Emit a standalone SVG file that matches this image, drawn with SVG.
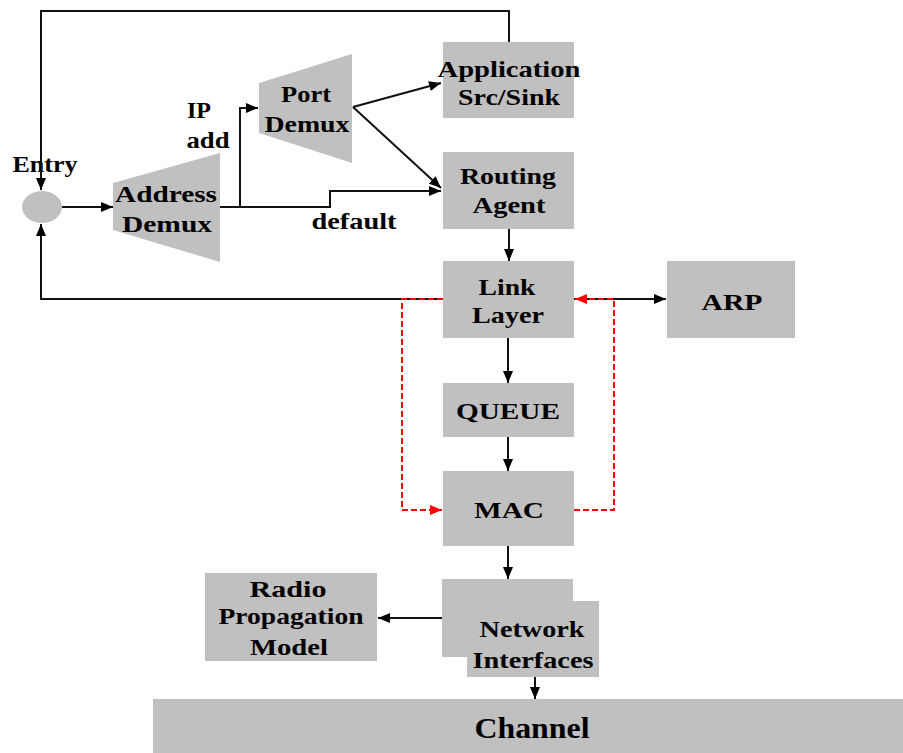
<svg xmlns="http://www.w3.org/2000/svg" width="903" height="753" viewBox="0 0 903 753">
<defs>
<style>
.box{fill:#c0c0c0;stroke:none}
.t{font-family:"Liberation Serif","Times New Roman",serif;font-weight:bold;font-size:24px;fill:#000;text-anchor:middle}
.ln{fill:none;stroke:#111;stroke-width:2}
.rd{fill:none;stroke:#ff0000;stroke-width:2;stroke-dasharray:6,3}
</style>
<marker id="ah" markerUnits="userSpaceOnUse" markerWidth="12" markerHeight="10" refX="12" refY="5" orient="auto">
<path d="M0,0 L12,5 L0,10 z" fill="#000"/>
</marker>
<marker id="ahr" markerUnits="userSpaceOnUse" markerWidth="12" markerHeight="10" refX="12" refY="5" orient="auto">
<path d="M0,0 L12,5 L0,10 z" fill="#ff0000"/>
</marker>
</defs>
<rect width="903" height="753" fill="#fff"/>

<g id="entry">
<ellipse cx="42" cy="207" rx="20" ry="16" class="box"/>
<text class="t" x="45" y="172" textLength="65" lengthAdjust="spacingAndGlyphs">Entry</text>
</g>
<g id="address-demux">
<polygon points="113,183 220,153 220,262 113,230" class="box"/>
<text class="t" x="166" y="202" textLength="102" lengthAdjust="spacingAndGlyphs">Address</text>
<text class="t" x="167" y="232" textLength="90" lengthAdjust="spacingAndGlyphs">Demux</text>
</g>
<g id="port-demux">
<polygon points="259,83 352,54 352,163 259,133" class="box"/>
<text class="t" x="306" y="102" textLength="50" lengthAdjust="spacingAndGlyphs">Port</text>
<text class="t" x="307" y="132" textLength="85" lengthAdjust="spacingAndGlyphs">Demux</text>
</g>
<g id="application">
<rect x="443" y="42" width="131" height="76" class="box"/>
<text class="t" x="509" y="77" textLength="143" lengthAdjust="spacingAndGlyphs">Application</text>
<text class="t" x="509" y="105" textLength="102" lengthAdjust="spacingAndGlyphs">Src/Sink</text>
</g>
<g id="routing-agent">
<rect x="443" y="152" width="131" height="77" class="box"/>
<text class="t" x="508" y="184" textLength="96" lengthAdjust="spacingAndGlyphs">Routing</text>
<text class="t" x="509" y="213" textLength="73" lengthAdjust="spacingAndGlyphs">Agent</text>
</g>
<g id="link-layer">
<rect x="443" y="261" width="131" height="77" class="box"/>
<text class="t" x="507" y="295" textLength="57" lengthAdjust="spacingAndGlyphs">Link</text>
<text class="t" x="508" y="323" textLength="72" lengthAdjust="spacingAndGlyphs">Layer</text>
</g>
<g id="arp">
<rect x="667" y="261" width="128" height="77" class="box"/>
<text class="t" x="732" y="310" textLength="61" lengthAdjust="spacingAndGlyphs">ARP</text>
</g>
<g id="queue">
<rect x="443" y="383" width="131" height="54" class="box"/>
<text class="t" x="508" y="419" textLength="104" lengthAdjust="spacingAndGlyphs">QUEUE</text>
</g>
<g id="mac">
<rect x="443" y="471" width="131" height="75" class="box"/>
<text class="t" x="509" y="518" textLength="70" lengthAdjust="spacingAndGlyphs">MAC</text>
</g>
<g id="network-interfaces">
<rect x="442" y="579" width="131" height="78" class="box"/>
<rect x="467" y="601" width="132" height="76" class="box"/>
<text class="t" x="532" y="637" textLength="105" lengthAdjust="spacingAndGlyphs">Network</text>
<text class="t" x="533" y="668" textLength="121" lengthAdjust="spacingAndGlyphs">Interfaces</text>
</g>
<g id="radio-propagation-model">
<rect x="205" y="573" width="172" height="88" class="box"/>
<text class="t" x="288" y="597" textLength="77" lengthAdjust="spacingAndGlyphs">Radio</text>
<text class="t" x="291" y="624" textLength="145" lengthAdjust="spacingAndGlyphs">Propagation</text>
<text class="t" x="289" y="655" textLength="78" lengthAdjust="spacingAndGlyphs">Model</text>
</g>
<g id="channel">
<rect x="153" y="699" width="750" height="54" class="box"/>
<text class="t" x="532" y="738" style="font-size:30px" textLength="115" lengthAdjust="spacingAndGlyphs">Channel</text>
</g>

<g id="connectors">
<path class="ln" d="M509,42 V11 H41 V190" marker-end="url(#ah)"/>
<path class="ln" d="M443,299 H41 V224" marker-end="url(#ah)"/>
<path class="ln" d="M62,207 H113" marker-end="url(#ah)"/>
<path class="ln" d="M220,207 H330 V191 H441" marker-end="url(#ah)"/>
<path class="ln" d="M240,207 V108 H258" marker-end="url(#ah)"/>
<path class="ln" d="M353,107 L441,83" marker-end="url(#ah)"/>
<path class="ln" d="M353,107 L441,188" marker-end="url(#ah)"/>
<path class="ln" d="M509,229 V261" marker-end="url(#ah)"/>
<path class="ln" d="M574,299 H666" marker-end="url(#ah)"/>
<path class="ln" d="M508,338 V383" marker-end="url(#ah)"/>
<path class="ln" d="M508,437 V471" marker-end="url(#ah)"/>
<path class="ln" d="M508,546 V579" marker-end="url(#ah)"/>
<path class="ln" d="M442,618 H378" marker-end="url(#ah)"/>
<path class="ln" d="M535,677 V699" marker-end="url(#ah)"/>
<path class="rd" d="M443,299 H402 V510 H442" marker-end="url(#ahr)"/>
<path class="rd" d="M574,510 H614 V299 H575" marker-end="url(#ahr)"/>
<text class="t" x="199" y="118" textLength="24" lengthAdjust="spacingAndGlyphs">IP</text>
<text class="t" x="208" y="148" textLength="43" lengthAdjust="spacingAndGlyphs">add</text>
<text class="t" x="354" y="229" textLength="85" lengthAdjust="spacingAndGlyphs">default</text>
</g>
</svg>
